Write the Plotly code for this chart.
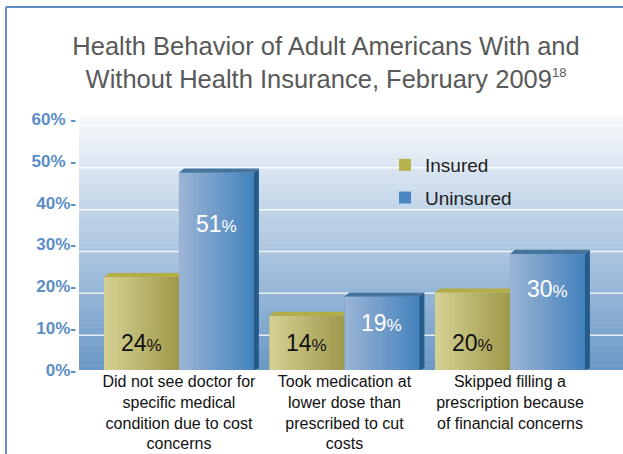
import plotly.graph_objects as go

# ---------------- data ----------------
categories = [
    "Did not see doctor for<br>specific medical<br>condition due to cost<br>concerns",
    "Took medication at<br>lower dose than<br>prescribed to cut<br>costs",
    "Skipped filling a<br>prescription because<br>of financial concerns",
]
series_names = ["Insured", "Uninsured"]
insured = [24, 14, 20]
uninsured = [51, 19, 30]
tick_values = [0, 10, 20, 30, 40, 50, 60]
tick_labels = ["0%-", "10%-", "20%-", "30%-", "40%-", "50% -", "60% -"]

# ---------------- style ----------------
W, H = 623, 454
ML, MR, MT, MB = 79, 0, 117, 84
FONT = "Liberation Sans, Arial, Helvetica, sans-serif"
x_pos = list(range(len(categories)))
bar_w = 0.453          # width of one bar in category units
dx, dy = 0.03, 1.05    # 3D depth offsets (x units, y units)
N_STRIPS = 16
BAR_PX = 3.87          # px per unit for bar fronts
LBL_PX = 4.183         # px per unit for tick labels
GRID_SHIFT = 7 / LBL_PX  # back-wall gridlines sit lower than the labels

ins_left, ins_right = (212, 208, 146), (160, 154, 76)
uni_left, uni_right = (154, 179, 213), (70, 132, 190)
ins_legend, uni_legend = "#b8b34b", "#4b87c2"
ins_top = "#b3ad46"
uni_top, uni_side = "#44759f", "#255b8b"


def mix(c0, c1, t):
    return "rgb(%d,%d,%d)" % tuple(round(a + (b - a) * t) for a, b in zip(c0, c1))


fig = go.Figure()

series = [
    (series_names[0], insured, -bar_w, ins_left, ins_right, ins_legend),
    (series_names[1], uninsured, 0.0, uni_left, uni_right, uni_legend),
]

for name, vals, off, cl, cr, leg in series:
    fig.add_trace(go.Bar(
        name=name, x=x_pos, y=vals, width=bar_w, offset=off,
        marker=dict(color=leg, line=dict(width=0)),
        legendgroup=name, hovertemplate="%{y}%<extra>" + name + "</extra>",
    ))
    sw = bar_w / N_STRIPS
    for j in range(N_STRIPS):
        fig.add_trace(go.Bar(
            x=x_pos, y=vals, width=sw * 1.15, offset=off + j * sw,
            marker=dict(color=mix(cl, cr, j / (N_STRIPS - 1)), line=dict(width=0)),
            showlegend=False, hoverinfo="skip", legendgroup=name,
        ))

# invisible carrier so the percentage axis is drawn
fig.add_trace(go.Scatter(
    x=[x_pos[0]] * len(tick_values), y=tick_values, yaxis="y2", mode="markers",
    marker=dict(opacity=0, size=1), showlegend=False, hoverinfo="skip",
))

shapes = []
# plot background vertical gradient
N_BG = 60
bg_top, bg_bot = (247, 249, 252), (106, 152, 198)
for k in range(N_BG):
    t0, t1 = k / N_BG, (k + 1) / N_BG
    shapes.append(dict(type="rect", xref="paper", yref="paper", x0=0, x1=1,
                       y0=1 - t1, y1=1 - t0 + 0.002, layer="below",
                       fillcolor=mix(bg_top, bg_bot, (t0 + t1) / 2), line=dict(width=0)))

# back-wall gridlines
for g in tick_values[1:]:
    shapes.append(dict(type="line", xref="paper", yref="y2", x0=0, x1=1,
                       y0=g - GRID_SHIFT, y1=g - GRID_SHIFT, layer="below",
                       line=dict(color="rgba(255,255,255,0.8)", width=1.5)))

# 3D faces
for i, x in enumerate(x_pos):
    v = insured[i]
    x0, x1 = x - bar_w, x
    shapes.append(dict(type="path", xref="x", yref="y", layer="above",
                       path=f"M{x0},{v} L{x0+dx},{v+dy} L{x1},{v+dy} L{x1},{v} Z",
                       fillcolor=ins_top, line=dict(width=0)))
    v = uninsured[i]
    x0, x1 = x, x + bar_w
    shapes.append(dict(type="path", xref="x", yref="y", layer="above",
                       path=f"M{x0},{v} L{x0+dx},{v+dy} L{x1+dx},{v+dy} L{x1},{v} Z",
                       fillcolor=uni_top, line=dict(width=0)))
    shapes.append(dict(type="path", xref="x", yref="y", layer="above",
                       path=f"M{x1},{v} L{x1+dx},{v+dy} L{x1+dx},{dy*0.4} L{x1},0 Z",
                       fillcolor=uni_side, line=dict(width=0)))

plot_w_px = W - ML - MR
plot_h_px = H - MT - MB
# outer frame (left and top border)
fx = (6 - ML) / plot_w_px
fy = 1 + (MT - 7) / plot_h_px
shapes.append(dict(type="line", xref="paper", yref="paper", x0=fx, x1=fx,
                   y0=-MB / plot_h_px - 0.05, y1=fy, line=dict(color="#5f8fc6", width=2)))
shapes.append(dict(type="line", xref="paper", yref="paper", x0=fx, x1=1.02,
                   y0=fy, y1=fy, line=dict(color="#5f8fc6", width=2)))

# value labels
annotations = []
for i, x in enumerate(x_pos):
    annotations.append(dict(
        x=x - bar_w / 2, y=7, xref="x", yref="y", showarrow=False,
        text=f"{insured[i]}<span style='font-size:17px'>%</span>",
        font=dict(family=FONT, size=23, color="#111111")))
    annotations.append(dict(
        x=x + bar_w / 2, y=uninsured[i] * 0.8 - 3, xref="x", yref="y", showarrow=False,
        text=f"{uninsured[i]}<span style='font-size:17px'>%</span>",
        font=dict(family=FONT, size=23, color="#ffffff")))

fig.update_layout(
    width=W, height=H,
    margin=dict(l=ML, r=MR, t=MT, b=MB, pad=0),
    paper_bgcolor="white", plot_bgcolor="white",
    barmode="overlay",
    title=dict(
        text="Health Behavior of Adult Americans With and<br>Without Health Insurance, February 2009"
             "<sup><span style='font-size:13px'>18</span></sup>",
        x=326 / W, xanchor="center", xref="container",
        y=1 - 55 / H, yanchor="top", yref="container",
        font=dict(family=FONT, size=25.5, color="#595959"),
    ),
    xaxis=dict(
        range=[-0.604, 2.683], tickmode="array", tickvals=x_pos, ticktext=categories,
        showgrid=False, zeroline=False, showline=False, ticks="",
        tickfont=dict(family=FONT, size=16, color="#111111"), fixedrange=True,
    ),
    yaxis=dict(
        range=[0, plot_h_px / BAR_PX], showgrid=False, zeroline=False,
        showticklabels=False, showline=False, ticks="", fixedrange=True,
    ),
    yaxis2=dict(
        overlaying="y", side="left", range=[0, plot_h_px / LBL_PX],
        tickmode="array", tickvals=tick_values, ticktext=tick_labels,
        showgrid=False, zeroline=False, showline=False, ticks="",
        ticklabelstandoff=2,
        tickfont=dict(family=FONT, size=17, color="#5b8dc6", weight="bold"),
        fixedrange=True,
    ),
    legend=dict(
        x=(385 - ML) / plot_w_px, y=(H - MB - 146) / plot_h_px,
        xanchor="left", yanchor="top", bgcolor="rgba(0,0,0,0)",
        font=dict(family=FONT, size=19, color="#222222"),
        traceorder="grouped", tracegroupgap=5,
    ),
    shapes=shapes,
    annotations=annotations,
    showlegend=True,
)

fig.write_html("out.html", config={"displayModeBar": False},
               post_script="document.body.style.margin='0';")
